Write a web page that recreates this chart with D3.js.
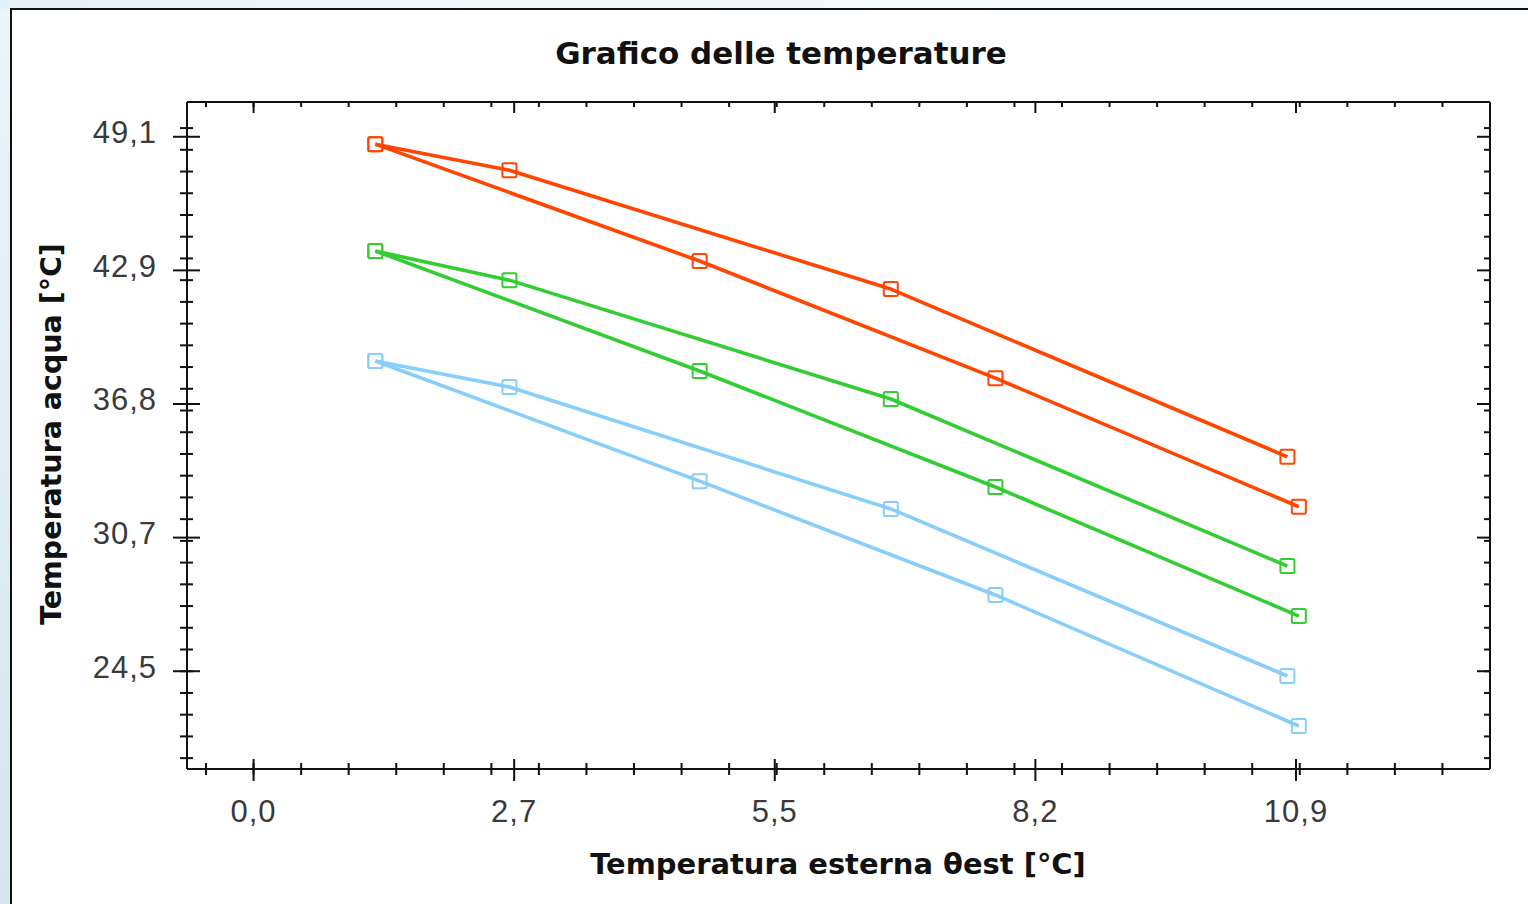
<!DOCTYPE html>
<html>
<head>
<meta charset="utf-8">
<script src="https://cdn.jsdelivr.net/npm/d3@7"></script>
<style>
  html, body { margin: 0; padding: 0; background: #fff; }
  svg { display: block; }
</style>
</head>
<body>
<svg id="chart" width="1528" height="904"></svg>
<script>
// Outdoor temperature (°C) at each measured point
const xUpper = [1.28, 2.69, 6.70, 10.87];
const xLower = [1.28, 4.69, 7.80, 10.99];

// Water temperature (°C) for each curve
const orangeUpper = [48.76, 47.56, 42.09, 34.37];
const orangeLower = [48.76, 43.38, 37.99, 32.07];
const greenUpper  = [43.84, 42.50, 37.03, 29.34];
const greenLower  = [43.84, 38.32, 32.98, 27.04];
const blueUpper   = [38.78, 37.58, 31.97, 24.28];
const blueLower   = [38.78, 33.25, 28.01, 21.98];

// Axis ticks
const xMajorTicks  = [0, 2.74, 5.48, 8.22, 10.96];
const xMajorLabels = ["0,0", "2,7", "5,5", "8,2", "10,9"];
const yMajorTicks  = [49.1, 42.95, 36.8, 30.65, 24.5];
const yMajorLabels = ["49,1", "42,9", "36,8", "30,7", "24,5"];
const xMinorTicks  = d3.range(-0.5, 12.51, 0.5);
const yMinorTicks  = d3.range(20.5, 49.51, 1);

const titleText = "Grafico delle temperature";
const xTitle = "Temperatura esterna θest [°C]";
const yTitle = "Temperatura acqua [°C]";

const series = [
  { xs: xUpper, ys: orangeUpper, color: "#ff4500" },
  { xs: xLower, ys: orangeLower, color: "#ff4500" },
  { xs: xUpper, ys: greenUpper,  color: "#32cd32" },
  { xs: xLower, ys: greenLower,  color: "#32cd32" },
  { xs: xUpper, ys: blueUpper,   color: "#87cefa" },
  { xs: xLower, ys: blueLower,   color: "#87cefa" }
];

const svg = d3.select("#chart");

// Window background with light blue fade, then the white chart panel
const defs = svg.append("defs");
const bgGrad = defs.append("linearGradient").attr("id", "bg")
  .attr("x1", 0).attr("y1", 0).attr("x2", 0).attr("y2", 1);
bgGrad.append("stop").attr("offset", "0%").attr("stop-color", "#eaf4f9");
bgGrad.append("stop").attr("offset", "100%").attr("stop-color", "#d6e6ef");
const topGrad = defs.append("linearGradient").attr("id", "bgTop")
  .attr("x1", 0).attr("y1", 0).attr("x2", 1).attr("y2", 0);
topGrad.append("stop").attr("offset", "0%").attr("stop-color", "#e4f0f6");
topGrad.append("stop").attr("offset", "30%").attr("stop-color", "#f3f8fb");
topGrad.append("stop").attr("offset", "100%").attr("stop-color", "#f7fafc");

svg.append("rect").attr("x", 0).attr("y", 0).attr("width", 1528).attr("height", 904)
  .attr("fill", "url(#bg)");
svg.append("rect").attr("x", 0).attr("y", 0).attr("width", 1528).attr("height", 9)
  .attr("fill", "url(#bgTop)");
svg.append("rect").attr("x", 11).attr("y", 9).attr("width", 1530).attr("height", 900)
  .attr("fill", "#fff").attr("stroke", "#111").attr("stroke-width", 2);

// Plot frame
const plotLeft = 187, plotRight = 1490, plotTop = 102, plotBottom = 769;
const x = d3.scaleLinear().domain([-0.7, 13.0]).range([plotLeft, plotRight]);
const y = d3.scaleLinear().domain([20.0, 50.7]).range([plotBottom, plotTop]);

const axisColor = "#111";

// Bottom axis: ticks cross the line
const gB = svg.append("g");
gB.append("line").attr("x1", plotLeft).attr("x2", plotRight).attr("y1", plotBottom).attr("y2", plotBottom)
  .attr("stroke", axisColor).attr("stroke-width", 2);
gB.selectAll("line.minor").data(xMinorTicks).join("line").attr("class", "minor")
  .attr("x1", d => x(d)).attr("x2", d => x(d)).attr("y1", plotBottom - 6).attr("y2", plotBottom + 6)
  .attr("stroke", axisColor).attr("stroke-width", 2);
gB.selectAll("line.major").data(xMajorTicks).join("line").attr("class", "major")
  .attr("x1", d => x(d)).attr("x2", d => x(d)).attr("y1", plotBottom - 10).attr("y2", plotBottom + 12)
  .attr("stroke", axisColor).attr("stroke-width", 2);
gB.selectAll("text").data(xMajorTicks).join("text")
  .attr("x", d => x(d)).attr("y", 822)
  .attr("text-anchor", "middle")
  .attr("font-family", "Liberation Sans, Arial, sans-serif").attr("font-size", 31)
  .attr("letter-spacing", 1)
  .attr("fill", "#3a3a3a")
  .text((d, i) => xMajorLabels[i]);

// Top axis: inward ticks
const gT = svg.append("g");
gT.append("line").attr("x1", plotLeft).attr("x2", plotRight).attr("y1", plotTop).attr("y2", plotTop)
  .attr("stroke", axisColor).attr("stroke-width", 2);
gT.selectAll("line.minor").data(xMinorTicks).join("line").attr("class", "minor")
  .attr("x1", d => x(d)).attr("x2", d => x(d)).attr("y1", plotTop).attr("y2", plotTop + 5)
  .attr("stroke", axisColor).attr("stroke-width", 2);
gT.selectAll("line.major").data(xMajorTicks).join("line").attr("class", "major")
  .attr("x1", d => x(d)).attr("x2", d => x(d)).attr("y1", plotTop).attr("y2", plotTop + 11)
  .attr("stroke", axisColor).attr("stroke-width", 2);

// Left axis: ticks cross the line
const gL = svg.append("g");
gL.append("line").attr("x1", plotLeft).attr("x2", plotLeft).attr("y1", plotTop).attr("y2", plotBottom)
  .attr("stroke", axisColor).attr("stroke-width", 2);
gL.selectAll("line.minor").data(yMinorTicks).join("line").attr("class", "minor")
  .attr("x1", plotLeft - 7).attr("x2", plotLeft + 6).attr("y1", d => y(d)).attr("y2", d => y(d))
  .attr("stroke", axisColor).attr("stroke-width", 2);
gL.selectAll("line.major").data(yMajorTicks).join("line").attr("class", "major")
  .attr("x1", plotLeft - 14).attr("x2", plotLeft + 13).attr("y1", d => y(d)).attr("y2", d => y(d))
  .attr("stroke", axisColor).attr("stroke-width", 2);
gL.selectAll("text").data(yMajorTicks).join("text")
  .attr("x", 157).attr("y", d => y(d) + 6.5)
  .attr("text-anchor", "end")
  .attr("font-family", "Liberation Sans, Arial, sans-serif").attr("font-size", 31)
  .attr("letter-spacing", 1)
  .attr("fill", "#3a3a3a")
  .text((d, i) => yMajorLabels[i]);

// Right axis: inward ticks
const gR = svg.append("g");
gR.append("line").attr("x1", plotRight).attr("x2", plotRight).attr("y1", plotTop).attr("y2", plotBottom)
  .attr("stroke", axisColor).attr("stroke-width", 2);
gR.selectAll("line.minor").data(yMinorTicks).join("line").attr("class", "minor")
  .attr("x1", plotRight - 6).attr("x2", plotRight).attr("y1", d => y(d)).attr("y2", d => y(d))
  .attr("stroke", axisColor).attr("stroke-width", 2);
gR.selectAll("line.major").data(yMajorTicks).join("line").attr("class", "major")
  .attr("x1", plotRight - 13).attr("x2", plotRight).attr("y1", d => y(d)).attr("y2", d => y(d))
  .attr("stroke", axisColor).attr("stroke-width", 2);

// Curves with open square markers
const line = d3.line().x(d => x(d[0])).y(d => y(d[1]));
const gS = svg.append("g");
series.forEach(s => {
  const pts = s.xs.map((xv, i) => [xv, s.ys[i]]);
  gS.append("path").datum(pts).attr("d", line)
    .attr("fill", "none").attr("stroke", s.color).attr("stroke-width", 3.6)
    .attr("stroke-linejoin", "round");
  gS.selectAll(null).data(pts).join("rect")
    .attr("x", d => x(d[0]) - 7).attr("y", d => y(d[1]) - 7)
    .attr("width", 14).attr("height", 14).attr("rx", 1.5)
    .attr("fill", "none").attr("stroke", s.color).attr("stroke-width", 2);
});

// Titles, sized to their measured widths
function fitText(sel, width) {
  const fs = +sel.attr("font-size");
  const w = sel.node().getComputedTextLength();
  sel.attr("font-size", fs * width / w);
}
const title = svg.append("text").attr("x", 781).attr("y", 64)
  .attr("text-anchor", "middle")
  .attr("font-family", "DejaVu Sans, Verdana, sans-serif").attr("font-weight", "bold")
  .attr("font-size", 26).attr("fill", "#111").text(titleText);
fitText(title, 452);

const xt = svg.append("text").attr("x", 838).attr("y", 874)
  .attr("text-anchor", "middle")
  .attr("font-family", "DejaVu Sans, Verdana, sans-serif").attr("font-weight", "bold")
  .attr("font-size", 26).attr("fill", "#111").text(xTitle);
fitText(xt, 496);

const yt = svg.append("text")
  .attr("transform", "translate(61,434) rotate(-90)")
  .attr("text-anchor", "middle")
  .attr("font-family", "DejaVu Sans, Verdana, sans-serif").attr("font-weight", "bold")
  .attr("font-size", 26).attr("fill", "#111").text(yTitle);
fitText(yt, 382);
</script>
</body>
</html>
